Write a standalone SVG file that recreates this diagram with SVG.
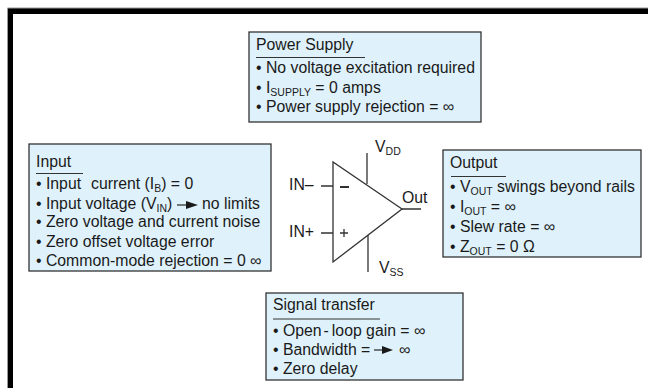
<svg xmlns="http://www.w3.org/2000/svg" width="648" height="388" viewBox="0 0 648 388">
<style>
text{font-family:"Liberation Sans",Arial,sans-serif;font-size:15.8px;fill:#1a1a1a}
.box{fill:#dff2fb;stroke:#333;stroke-width:1.3}
.rule{stroke:#333;stroke-width:1;fill:none}
.w{stroke:#333;stroke-width:1.3;fill:none}
.s{font-size:10.500px}
.h{fill:#1a1a1a}
</style>
<rect width="648" height="388" fill="#fff"/>
<path d="M648 8H8V388H13V14H648Z" fill="#000"/>
<path d="M648 8H7.500V388" fill="none" stroke="#999" stroke-width="1"/>
<g id="power"><rect class="box" x="249" y="32" width="232" height="90"/>
<text x="256" y="49.500">Power Supply</text><line class="rule" x1="256" y1="57.500" x2="365" y2="57.500"/>
<text x="256" y="73">• No voltage excitation required</text>
<text x="256" y="93">• I<tspan class="s" dy="3">SUPPLY</tspan><tspan dy="-3"> = 0 amps</tspan></text>
<text x="256" y="112">• Power supply rejection = ∞</text></g>
<g id="input"><rect class="box" x="29" y="144" width="242" height="127"/>
<text x="36" y="167">Input</text><line class="rule" x1="36" y1="173.500" x2="83" y2="173.500"/>
<text x="36" y="189">• Input<tspan x="91">current (I</tspan><tspan class="s" dy="3">B</tspan><tspan dy="-3">) = 0</tspan></text>
<text x="36" y="209">• Input voltage (V<tspan class="s" dy="3">IN</tspan><tspan dy="-3">)</tspan></text>
<text x="202" y="209">no limits</text>
<path d="M177 205H190" class="w"/><path class="h" d="M186 201L198 205L186 209Z"/>
<text x="36" y="227">• Zero voltage and current noise</text>
<text x="36" y="247">• Zero offset voltage error</text>
<text x="36" y="265.500">• Common-mode rejection = 0 ∞</text></g>
<g id="output"><rect class="box" x="443" y="150" width="198" height="107"/>
<text x="450" y="168">Output</text><line class="rule" x1="451" y1="176.500" x2="506" y2="176.500"/>
<text x="450" y="192">• V<tspan class="s" dy="3">OUT</tspan><tspan dy="-3"> swings beyond rails</tspan></text>
<text x="450" y="212">• I<tspan class="s" dy="3">OUT</tspan><tspan dy="-3"> = ∞</tspan></text>
<text x="450" y="232">• Slew rate = ∞</text>
<text x="450" y="252">• Z<tspan class="s" dy="3">OUT</tspan><tspan dy="-3"> = 0 Ω</tspan></text></g>
<g id="signal"><rect class="box" x="266" y="293" width="197" height="87"/>
<text x="273" y="310">Signal transfer</text><line class="rule" x1="273" y1="319" x2="380" y2="319"/>
<text x="273" y="336">• Open<tspan dx="2">-</tspan><tspan dx="3">loop gain = ∞</tspan></text>
<text x="273" y="355">• Bandwidth =</text>
<path d="M374 350H386" class="w"/><path class="h" d="M382 346L393 350L382 354Z"/>
<text x="399" y="355">∞</text>
<text x="273" y="374">• Zero delay</text></g>
<g id="opamp"><path class="w" d="M333 162V262L402 209Z"/>
<text x="375" y="152">V<tspan class="s" dy="3">DD</tspan></text>
<text x="379" y="273">V<tspan class="s" dy="3">SS</tspan></text>
<text x="402" y="203">Out</text>
<text x="289" y="190">IN–</text><text x="289" y="237">IN+</text>
<path d="M340 187H349" stroke="#1a1a1a" stroke-width="1.800"/>
<path class="w" d="M340 233H348M344 229V237"/></g>
<g id="connectors">
<path class="w" d="M367 153V184M368 235V272M402 209H421M321 186H333M321 233H333"/>
</g>
</svg>
